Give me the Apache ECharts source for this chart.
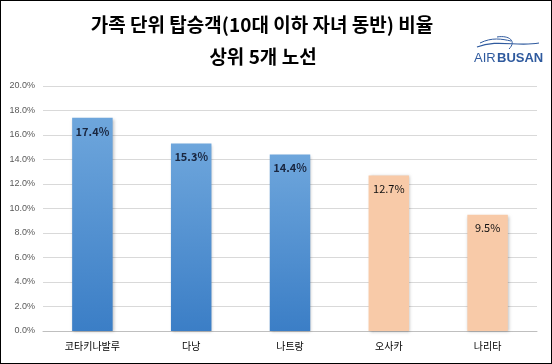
<!DOCTYPE html>
<html><head><meta charset="utf-8">
<script src="https://cdn.jsdelivr.net/npm/echarts@6/dist/echarts.min.js"></script>
<style>html,body{margin:0;padding:0;background:#fff}#c{width:552px;height:364px;box-sizing:border-box;border:1.5px solid #000}</style>
</head><body><div id="c"></div>
<script>
const categories = ['코타키나발루', '다낭', '나트랑', '오사카', '나리타'];
const values = [17.4, 15.3, 14.4, 12.7, 9.5];
const groups = ['blue', 'blue', 'blue', 'orange', 'orange'];
const titleLines = ['가족 단위 탑승객(10대 이하 자녀 동반) 비율', '상위 5개 노선'];

const chart = echarts.init(document.getElementById('c'));
const blue = new echarts.graphic.LinearGradient(0, 0, 0, 1, [
  {offset: 0, color: '#6ea6dc'}, {offset: 1, color: '#3b7ec6'}]);
const font = '"Noto Sans CJK KR", "Noto Sans", sans-serif';
chart.setOption({
  animation: false,
  textStyle: {fontFamily: font},
  grid: {left: 42, right: 14, top: 85, bottom: 32, containLabel: false},
  xAxis: {
    type: 'category', data: categories,
    axisLine: {lineStyle: {color: '#bfbfbf'}}, axisTick: {show: false},
    axisLabel: {color: '#000', fontSize: 10, margin: 10}
  },
  yAxis: {
    type: 'value', min: 0, max: 20, interval: 2,
    axisLabel: {formatter: v => v.toFixed(1) + '%', color: '#595959', fontSize: 9, margin: 8, fontFamily: 'Liberation Sans, sans-serif'},
    splitLine: {lineStyle: {color: '#d9d9d9'}},
    axisLine: {show: false}, axisTick: {show: false}
  },
  series: [{
    type: 'bar', barWidth: '41%',
    data: values.map((v, i) => ({
      value: v,
      itemStyle: {
        color: groups[i] === 'blue' ? blue : '#f8caa8',
        shadowColor: 'rgba(0,0,0,0.25)', shadowBlur: 3, shadowOffsetX: 1, shadowOffsetY: 1
      },
      label: {
        show: true, position: 'insideTop', distance: 8,
        formatter: v.toFixed(1) + '%',
        color: groups[i] === 'blue' ? '#1a2740' : '#111',
        fontWeight: groups[i] === 'blue' ? 'bold' : 'normal',
        fontSize: 11
      }
    }))
  }],
  graphic: [
    {type: 'text', x: 261, y: 24, style: {text: titleLines[0], align: 'center', verticalAlign: 'middle', fontSize: 19, fontWeight: 'bold', fill: '#000', fontFamily: font}},
    {type: 'text', x: 262, y: 56, style: {text: titleLines[1], align: 'center', verticalAlign: 'middle', fontSize: 19, fontWeight: 'bold', fill: '#000', fontFamily: font}},
    {type: 'bezierCurve', shape: {x1: 476, y1: 46, cpx1: 496, cpy1: 38, cpx2: 516, cpy2: 46, x2: 538, y2: 42}, style: {stroke: '#2f5a9e', lineWidth: 1.2, fill: null}},
    {type: 'bezierCurve', shape: {x1: 479, y1: 42, cpx1: 491, cpy1: 36, cpx2: 501, cpy2: 38, x2: 510, y2: 40}, style: {stroke: '#2f5a9e', lineWidth: 1, fill: null}},
    {type: 'bezierCurve', shape: {x1: 496, y1: 36, cpx1: 508, cpy1: 34, cpx2: 516, cpy2: 40, x2: 508, y2: 48}, style: {stroke: '#2f5a9e', lineWidth: 1, fill: null}},
    {type: 'text', left: 473, top: 51, style: {text: 'AIR', fontSize: 13, fill: '#2f5a9e', fontFamily: 'Liberation Sans, sans-serif'}},
    {type: 'text', left: 496, top: 51, style: {text: 'BUSAN', fontSize: 13, fontWeight: 'bold', fill: '#2f5a9e', fontFamily: 'Liberation Sans, sans-serif'}}
  ]
});
</script></body></html>
